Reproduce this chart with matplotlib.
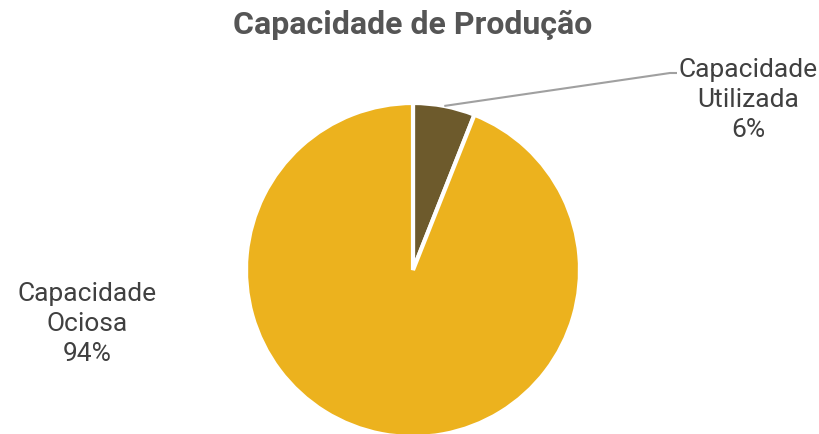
import matplotlib
matplotlib.use("Agg")
import matplotlib.pyplot as plt
import numpy as np

plt.rcParams['font.family'] = ['Roboto', 'DejaVu Sans']

categories = ["Capacidade Utilizada", "Capacidade Ociosa"]
label_lines = ["Capacidade\nUtilizada", "Capacidade\nOciosa"]
values = [6, 94]
colors = ["#6D5A2C", "#ECB21E"]
title = "Capacidade de Produção"

W, H = 820, 434
fig = plt.figure(figsize=(W / 100, H / 100), dpi=100)
cx, cy, r = 413, 270, 167
ax = fig.add_axes([(cx - r) / W, (H - cy - r) / H, 2 * r / W, 2 * r / H])
wedges, _ = ax.pie(values, colors=colors, startangle=90, counterclock=False,
                   wedgeprops=dict(edgecolor="white", linewidth=3))
ax.set_xlim(-1, 1)
ax.set_ylim(-1, 1)
ax.set_aspect("equal")
ax.axis("off")

total = sum(values)
pcts = [f"{v / total * 100:.0f}%" for v in values]

# Label for small slice with leader line
w0 = wedges[0]
mid = np.deg2rad((w0.theta1 + w0.theta2) / 2)
sx, sy = np.cos(mid), np.sin(mid)
ex, ey = (670 - cx) / r, (cy - 73) / r
hx = (677 - cx) / r
ax.plot([sx, ex, hx], [sy, ey, ey], color="#A0A0A0", lw=1.5, clip_on=False,
        solid_capstyle="butt")
ax.text((748 - cx) / r, (cy - 100) / r, f"{label_lines[0]}\n{pcts[0]}",
        ha="center", va="center", fontsize=19, color="#404040",
        linespacing=1.33, clip_on=False)

# Label for big slice
ax.text((87 - cx) / r, (cy - 324) / r, f"{label_lines[1]}\n{pcts[1]}",
        ha="center", va="center", fontsize=19, color="#404040",
        linespacing=1.33, clip_on=False)

fig.text(413 / W, 1 - 25 / H, title, ha="center", va="center",
         fontsize=23, fontweight="bold", color="#555555")

fig.savefig("out.png", dpi=100)
